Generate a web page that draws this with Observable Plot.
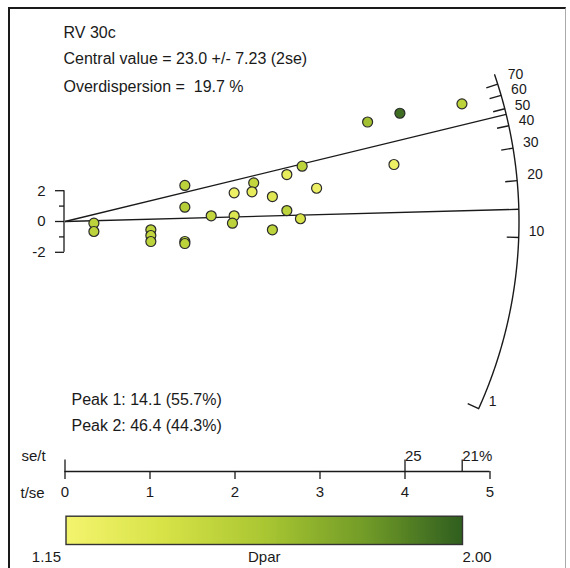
<!DOCTYPE html>
<html><head><meta charset="utf-8">
<script src="https://cdn.jsdelivr.net/npm/d3@7"></script>
<script src="https://cdn.jsdelivr.net/npm/@observablehq/plot@0.6"></script>
<style>
body{margin:0;background:#fff;}
#wrap{position:relative;width:570px;height:568px;overflow:hidden;font-family:"Liberation Sans",Arial,sans-serif;}
#wrap svg{display:block}
#border{position:absolute;left:8px;top:7px;width:558px;height:575px;border-left:2px solid #1a1a1a;border-top:2px solid #1a1a1a;border-right:1px solid #aaa;box-sizing:border-box;pointer-events:none}
</style></head><body><div id="wrap"><div id="border"></div></div>
<script>
// ---------- data ----------
const sampleName = "RV 30c";
const centralValue = 23.0, centralErr = 7.23;
const overdispersion = 19.7;
const peakAges = [14.1, 46.4];
const peakProps = [55.7, 44.3];
// single grains: precision (t/se), standardised estimate, Dpar
const grainX = [0.34, 0.34, 1.01, 1.01, 1.01, 1.41, 1.41, 1.41, 1.41, 1.72, 1.99, 1.99, 1.97, 2.22, 2.20, 2.44, 2.44, 2.61, 2.61, 2.79, 2.77, 2.96, 3.56, 3.94, 4.67, 3.87];
const grainY = [-0.11, -0.65, -0.54, -0.91, -1.30, 2.34, 0.93, -1.30, -1.43, 0.37, 1.86, 0.37, -0.11, 2.51, 1.93, 1.62, -0.54, 3.05, 0.71, 3.59, 0.18, 2.16, 6.46, 7.03, 7.64, 3.70];
const grainDpar = [1.48, 1.48, 1.48, 1.45, 1.48, 1.48, 1.52, 1.48, 1.48, 1.45, 1.20, 1.32, 1.48, 1.45, 1.25, 1.30, 1.48, 1.25, 1.48, 1.48, 1.35, 1.20, 1.60, 1.95, 1.48, 1.20];
const arcTicks = [1, 10, 20, 30, 40, 50, 60, 70];
const arcRange = [1, 80];
const refAge = 12.15;            // age of the horizontal (z = 0) direction
const tseTicks = [0, 1, 2, 3, 4, 5];
const seTicksPct = [25, 21.4];
const seTickLabels = ["25", "21%"];
const zTicks = [-2, -1, 0, 1, 2];
const zLabels = [-2, 0, 2];
const dparRange = [1.15, 2.00];
const dparColors = ["#f4f46e", "#d6e246", "#a9c632", "#729c27", "#2f5e1f"];

// ---------- geometry / layout (styling, not data) ----------
const W = 570, H1 = 505, H2 = 63;
const kx = 85, ky = 15.4;          // px per unit
const origin = [64.5, 221];
const axisPx = 471;
const arcRpx = 454;
const arcLabelLift = [7, 6, 6, 6, 5, 3, 6, 10];   // px lift of each arc label above its tick
const arcR = arcRpx / kx;
const asp = ky / kx;
const z0 = Math.log(refAge);
const ink = "#1a1a1a";
const font = '"Liberation Sans", Arial, sans-serif';

function arcPoint(t, r) {
  const s = Math.log(t) - z0;
  const x = r / Math.sqrt(1 + (asp * s) ** 2);
  return {t, x, y: s * x};
}
const arcPts = d3.range(0, 1.0001, 0.004).map(f => arcPoint(arcRange[0] * Math.pow(arcRange[1] / arcRange[0], f), arcR));
const grains = grainX.map((x, i) => ({x, y: grainY[i], dpar: grainDpar[i]}));

const xDomain = [-origin[0] / kx, (W - origin[0]) / kx];
const yDomain = [(origin[1] - axisPx) / ky, origin[1] / ky];
const colorOpts = {
  type: "linear",
  domain: dparColors.map((_, i) => dparRange[0] + (dparRange[1] - dparRange[0]) * i / (dparColors.length - 1)),
  range: dparColors, interpolate: "rgb"
};
const tickIn = 12 / kx;
const yAxisBase = yDomain[0];
const upTicks = [tseTicks[0], ...seTicksPct.map(p => 100 / p)];

const annot = (txt, dx, dy, size = 16) => Plot.text([txt], {
  frameAnchor: "top-left", dx, dy, textAnchor: "start", lineAnchor: "bottom", fontSize: size, fill: ink
});

const main = Plot.plot({
  width: W, height: H1,
  marginLeft: 0, marginRight: 0, marginTop: 0, marginBottom: H1 - axisPx,
  x: {domain: xDomain, range: [0, W]},
  y: {domain: yDomain, range: [axisPx, 0], axis: null},
  color: colorOpts,
  style: {fontFamily: font, fontSize: "15px", color: ink, background: "transparent", overflow: "visible"},
  marks: [
    // arc scale
    Plot.line(arcPts, {x: "x", y: "y", stroke: ink, strokeWidth: 1.4}),
    Plot.link(arcTicks, {
      x1: t => arcPoint(t, arcR).x, y1: t => arcPoint(t, arcR).y,
      x2: t => arcPoint(t, arcR - tickIn).x, y2: t => arcPoint(t, arcR - tickIn).y,
      stroke: ink, strokeWidth: 1.4
    }),
    Plot.text(arcTicks, {
      x: t => arcPoint(t, arcR).x,
      y: (t, i) => arcPoint(t, arcR).y + arcLabelLift[i] / ky,
      text: t => String(t),
      dx: 10, textAnchor: "start", lineAnchor: "middle", fontSize: 14, fill: ink
    }),
    // peak rays
    Plot.link(peakAges, {
      x1: 0, y1: 0, x2: t => arcPoint(t, arcR).x, y2: t => arcPoint(t, arcR).y,
      stroke: ink, strokeWidth: 1.3
    }),
    // +-2 axis
    Plot.ruleX([0], {y1: zTicks[0], y2: zTicks[zTicks.length - 1], stroke: ink, strokeWidth: 1.3, dx: -1}),
    Plot.link(zTicks, {
      x1: 0, x2: z => (z % 2 === 0 ? -9 : -5) / kx, y1: z => z, y2: z => z,
      stroke: ink, strokeWidth: 1.3, dx: -1
    }),
    Plot.text(zLabels, {x: 0, y: z => z, text: z => String(z), dx: -19.5, textAnchor: "end", lineAnchor: "middle", fontSize: 15, fill: ink}),
    // grains
    Plot.dot(grains, {x: "x", y: "y", fill: "dpar", r: 5, stroke: "#2a2a2a", strokeWidth: 1.2}),
    // annotations
    annot(sampleName, 63, 37),
    annot(`Central value = ${centralValue.toFixed(1)} +/- ${centralErr.toFixed(2)} (2se)`, 63, 63.5),
    annot(`Overdispersion =  ${overdispersion.toFixed(1)} %`, 63, 91),
    annot(`Peak 1: ${peakAges[0]} (${peakProps[0]}%)`, 71, 404),
    annot(`Peak 2: ${peakAges[1]} (${peakProps[1]}%)`, 71, 430),
    // precision axis
    Plot.ruleY([yAxisBase], {x1: tseTicks[0], x2: tseTicks[tseTicks.length - 1], stroke: ink, strokeWidth: 1.3}),
    Plot.axisX({ticks: tseTicks, tickFormat: d3.format("d"), tickSize: 8, tickPadding: 7, label: null, fontSize: 15, stroke: ink, strokeWidth: 1.3}),
    Plot.link(upTicks, {x1: d => d, x2: d => d, y1: yAxisBase, y2: yAxisBase + 12 / ky, stroke: ink, strokeWidth: 1.3}),
    Plot.text(seTicksPct, {x: p => 100 / p, text: (p, i) => seTickLabels[i], frameAnchor: "bottom", dy: -11, textAnchor: "start", lineAnchor: "bottom", fontSize: 15, fill: ink}),
    Plot.text(["se/t"], {frameAnchor: "bottom-left", dx: 21, dy: -11, textAnchor: "start", lineAnchor: "bottom", fontSize: 15, fill: ink}),
    Plot.text(["t/se"], {frameAnchor: "bottom-left", dx: 20, dy: 26, textAnchor: "start", lineAnchor: "bottom", fontSize: 15, fill: ink})
  ]
});

// colour bar
const nSteps = 200;
const step = (dparRange[1] - dparRange[0]) / nSteps;
const ramp = d3.range(nSteps).map(i => dparRange[0] + i * step);
const barLeft = 65.5, barRight = 462, barTop = 10.7, barBottom = 39;
const bar = Plot.plot({
  width: W, height: H2,
  marginLeft: barLeft, marginRight: W - barRight, marginTop: barTop, marginBottom: H2 - barBottom,
  x: {domain: dparRange, axis: null},
  y: {axis: null},
  color: colorOpts,
  style: {fontFamily: font, fontSize: "15px", color: ink, background: "transparent", overflow: "visible"},
  marks: [
    Plot.rect(ramp, {x1: d => d, x2: d => Math.min(d + step * 1.5, dparRange[1]), fill: d => d, shapeRendering: "crispEdges"}),
    Plot.frame({stroke: "#333", strokeWidth: 1.4}),
    Plot.text([dparRange[0]], {x: d => d, text: d => d.toFixed(2), frameAnchor: "bottom", dy: 17, dx: -5, textAnchor: "end", lineAnchor: "bottom", fontSize: 15, fill: ink}),
    Plot.text([(dparRange[0] + dparRange[1]) / 2], {x: d => d, text: () => "Dpar", frameAnchor: "bottom", dy: 17, textAnchor: "middle", lineAnchor: "bottom", fontSize: 15, fill: ink}),
    Plot.text([dparRange[1]], {x: d => d, text: d => d.toFixed(2), frameAnchor: "bottom", dy: 17, textAnchor: "start", lineAnchor: "bottom", fontSize: 15, fill: ink})
  ]
});

const wrap = document.getElementById("wrap");
wrap.insertBefore(main, wrap.firstChild);
wrap.insertBefore(bar, document.getElementById("border"));
</script>
</body></html>
